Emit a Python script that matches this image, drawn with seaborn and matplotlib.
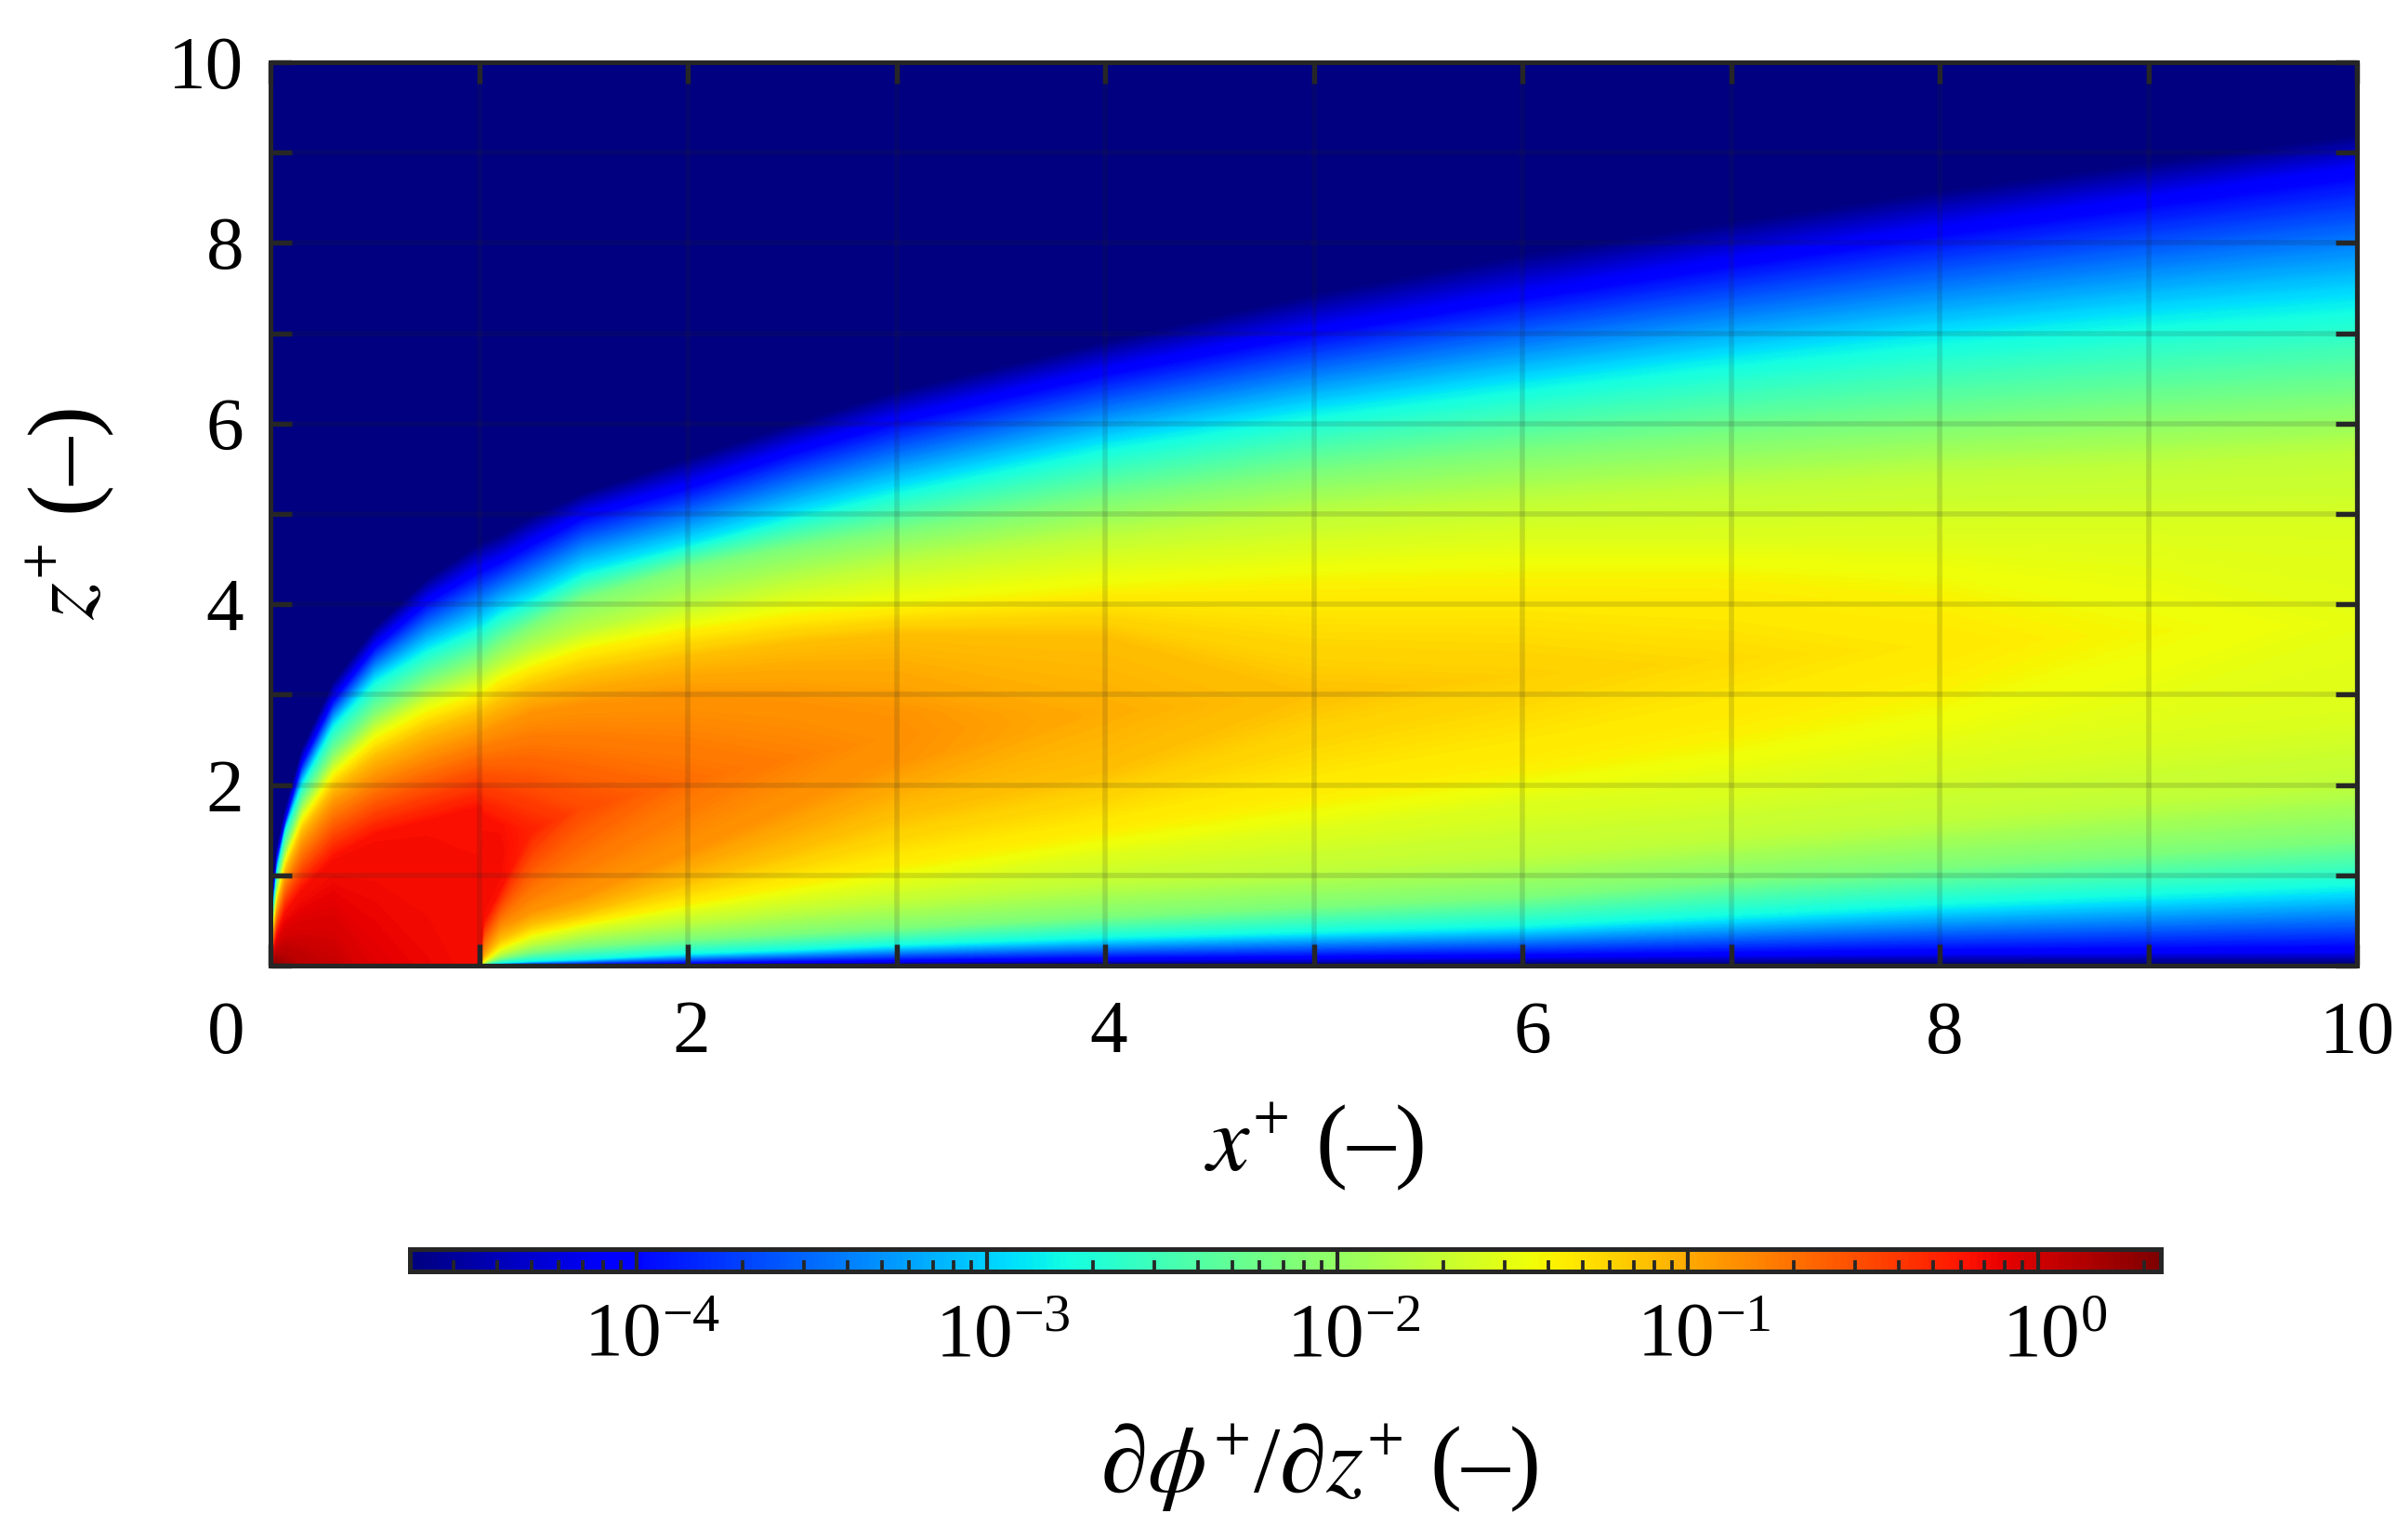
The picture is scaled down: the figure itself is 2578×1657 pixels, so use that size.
import numpy as np
import matplotlib
matplotlib.use("Agg")
import matplotlib.pyplot as plt
import seaborn as sns
from matplotlib.cm import ScalarMappable
from matplotlib.colors import LogNorm, Normalize
from matplotlib.ticker import LogLocator, NullFormatter
from matplotlib.transforms import ScaledTranslation

x_plus = [0, .01, .03, .07, .15, .3, .5, .75, 1.0,
          1.02, 1.1, 1.25, 1.5, 2, 2.5, 3, 4, 5, 6, 7, 8, 9, 10]

# ridge of the field: height and log10 value
peak_z = [0, 0, 0, 0, 0, 0, 0, 0, 0,
          .9, 1.25, 1.5, 1.75, 2.05, 2.3, 2.55, 2.8, 3.0, 3.22, 3.4, 3.55, 3.7, 3.8]
peak_log = [.34, .32, .28, .18, .1, .04, -.08, -.13, -.17,
            -.16, -.17, -.28, -.5, -.68, -.78, -.87, -1.02, -1.12, -1.19, -1.26, -1.33, -1.41, -1.5]

# height of each colour level below the ridge
low_blue = [0, 0, 0, 0, 0, 0, 0, 0, 0,
            .002, .005, .01, .015, .025, .04, .05, .07, .085, .1, .12, .14, .15, .16]
low_cyan = [0, 0, 0, 0, 0, 0, 0, 0, 0,
            .008, .03, .05, .07, .13, .17, .22, .3, .36, .42, .53, .65, .75, .85]
low_green = [0, 0, 0, 0, 0, 0, 0, 0, 0,
             .02, .08, .15, .22, .3, .36, .42, .55, .66, .77, .95, 1.1, 1.25, 1.4]
low_lime = [0, 0, 0, 0, 0, 0, 0, 0, 0,
            .03, .13, .24, .35, .48, .6, .7, .9, 1.05, 1.2, 1.4, 1.6, 1.8, 2.0]
low_chart = [0, 0, 0, 0, 0, 0, 0, 0, 0,
             .04, .17, .3, .42, .6, .75, .9, 1.22, 1.5, 1.8, 2.0, 2.3, 2.6, 2.85]
low_yellow = [0, 0, 0, 0, 0, 0, 0, 0, 0,
              .05, .2, .35, .47, .68, .88, 1.08, 1.45, 1.8, 2.12, 2.5, 3.0, 3.7, 3.8]
low_amber = [0, 0, 0, 0, 0, 0, 0, 0, 0,
             .09, .3, .47, .6, .95, 1.3, 1.7, 2.2, 3.0, 3.22, 3.4, 3.55, 3.7, 3.8]
low_orange = [0, 0, 0, 0, 0, 0, 0, 0, 0,
              .15, .42, .6, .78, 1.25, 1.75, 2.25, 2.8, 3.0, 3.22, 3.4, 3.55, 3.7, 3.8]
low_red = [0, 0, 0, 0, 0, 0, 0, 0, 0,
           .5, .85, 1.5, 1.75, 2.05, 2.3, 2.55, 2.8, 3.0, 3.22, 3.4, 3.55, 3.7, 3.8]

# height of each colour level above the ridge
up_red = [.005, .15, .35, .6, .85, 1.2, 1.45, 1.6, 1.75,
          1.65, 1.55, 1.5, 1.75, 2.05, 2.3, 2.55, 2.8, 3.0, 3.22, 3.4, 3.55, 3.7, 3.8]
up_orange = [.01, .3, .6, .95, 1.35, 1.8, 2.1, 2.35, 2.55,
             2.57, 2.65, 2.8, 2.9, 3.0, 2.95, 2.8, 2.8, 3.0, 3.22, 3.4, 3.55, 3.7, 3.8]
up_amber = [.012, .35, .68, 1.05, 1.48, 1.95, 2.3, 2.58, 2.78,
            2.8, 2.9, 3.05, 3.2, 3.4, 3.55, 3.65, 3.6, 3.0, 3.22, 3.4, 3.55, 3.7, 3.8]
up_yellow = [.015, .4, .75, 1.15, 1.6, 2.1, 2.5, 2.8, 3.0,
             3.02, 3.15, 3.3, 3.5, 3.72, 3.88, 3.97, 4.15, 4.25, 4.3, 4.3, 4.1, 3.7, 3.8]
up_chart = [.016, .42, .78, 1.18, 1.65, 2.16, 2.58, 2.9, 3.1,
            3.12, 3.24, 3.4, 3.6, 3.85, 4.05, 4.2, 4.45, 4.6, 4.72, 4.72, 4.75, 4.75, 4.7]
up_lime = [.017, .45, .82, 1.22, 1.7, 2.22, 2.65, 2.98, 3.2,
           3.22, 3.33, 3.5, 3.7, 4.0, 4.25, 4.45, 4.75, 5.0, 5.16, 5.3, 5.45, 5.55, 5.67]
up_green = [.02, .5, .9, 1.3, 1.8, 2.35, 2.8, 3.15, 3.4,
            3.42, 3.55, 3.75, 4.05, 4.4, 4.62, 4.8, 5.15, 5.45, 5.68, 5.85, 6.0, 6.15, 6.27]
up_cyan = [.02, .6, 1.05, 1.5, 2.0, 2.65, 3.15, 3.5, 3.75,
           3.77, 3.9, 4.05, 4.35, 4.65, 4.97, 5.26, 5.75, 6.12, 6.42, 6.7, 6.95, 7.15, 7.32]
up_blue = [.02, .75, 1.2, 1.6, 2.25, 2.95, 3.55, 4.05, 4.4,
           4.42, 4.5, 4.7, 5.0, 5.33, 5.72, 6.06, 6.6, 7.05, 7.45, 7.82, 8.17, 8.5, 8.83]
up_navy = [.03, .9, 1.35, 1.8, 2.45, 3.2, 3.8, 4.35, 4.75,
           4.77, 4.85, 5.05, 5.3, 5.7, 6.08, 6.45, 7.0, 7.55, 8.0, 8.35, 8.7, 9.0, 9.3]

# log10 value of the colour levels
LOG_NAVY, LOG_BLUE, LOG_CYAN, LOG_GREEN, LOG_LIME = -4.8, -4.09, -2.84, -2.14, -1.75
LOG_CHART, LOG_YELLOW, LOG_AMBER, LOG_ORANGE, LOG_RED = -1.55, -1.39, -1.1, -0.89, -0.19
LOG_MIN, LOG_MAX = -4.646, 0.351

x_ticks = list(range(11))
x_labels = ["0", "", "2", "", "4", "", "6", "", "8", "", "10"]
x_label_nudge = [-48, 0, 3, 0, 3, 0, 10, 0, 5, 0, 0]  # px, as placed in the picture
z_ticks = list(range(11))
z_labels = ["", "", "2", "", "4", "", "6", "", "8", "", "10"]

W, H, DPI = 2579, 1657, 300
DARK = "#262626"

sns.set_theme(style="ticks", rc={
    "font.family": ["Liberation Serif", "DejaVu Serif"],
    "mathtext.fontset": "stix",
    "mathtext.default": "regular",
    "axes.edgecolor": DARK,
    "axes.linewidth": 1.2,
    "font.size": 19,
    "text.color": "black",
    "axes.labelcolor": "black",
})
jet = matplotlib.colormaps["jet"]  # seaborn refuses to hand this one out

rows = [np.zeros(len(x_plus)), low_blue, low_cyan, low_green, low_lime, low_chart, low_yellow,
        low_amber, low_orange, low_red, peak_z, up_red, up_orange, up_amber, up_yellow, up_chart,
        up_lime, up_green, up_cyan, up_blue, up_navy, np.full(len(x_plus), 10.0)]
levels = [LOG_NAVY, LOG_BLUE, LOG_CYAN, LOG_GREEN, LOG_LIME, LOG_CHART, LOG_YELLOW,
          LOG_AMBER, LOG_ORANGE, LOG_RED, 9, LOG_RED, LOG_ORANGE, LOG_AMBER, LOG_YELLOW, LOG_CHART,
          LOG_LIME, LOG_GREEN, LOG_CYAN, LOG_BLUE, LOG_NAVY, LOG_NAVY]

Z = np.array(rows, dtype=float)
V = np.array([np.minimum(lv, peak_log) for lv in levels])
X = np.tile(x_plus, (len(rows), 1))

fig = plt.figure(figsize=(W / DPI, H / DPI), dpi=DPI)
ax = fig.add_axes([291.5 / W, 1 - 1039 / H, 2245 / W, 972 / H])

ax.contourf(X, Z, V, levels=np.linspace(LOG_MIN, LOG_MAX, 300), cmap=jet,
            norm=Normalize(LOG_MIN, LOG_MAX), extend="both")

ax.set_xlim(0, 10)
ax.set_ylim(0, 10)
ax.set_xticks(x_ticks, x_labels)
ax.set_yticks(z_ticks, z_labels)
ax.tick_params(direction="in", length=5.5, width=1.3, color=DARK, top=True, right=True,
               labelsize=19.5, labelcolor="black")
ax.tick_params(axis="x", pad=9)
ax.tick_params(axis="y", pad=7)
ax.grid(True, color=DARK, alpha=0.15, linewidth=1.35)
ax.set_axisbelow(False)
sns.despine(ax=ax, top=False, right=False)

# the labels do not sit exactly under their ticks, "0" is left of the corner
for lab, px in zip(ax.get_xticklabels(), x_label_nudge):
    lab.set_transform(lab.get_transform() + ScaledTranslation(px / DPI, 0, fig.dpi_scale_trans))

ax.set_xlabel(r"$\mathit{x}^{+}$ (–)", fontsize=24.5, va="center")
ax.xaxis.set_label_coords(0.5, -0.2)
ax.set_ylabel(r"$\mathit{z}^{+}$ (–)", fontsize=24.5, va="center")
ax.yaxis.set_label_coords(-0.096, 0.5)

# colour bar
cax = fig.add_axes([441.5 / W, 1 - 1367.5 / H, 1884 / W, 24 / H])
sm = ScalarMappable(norm=LogNorm(10 ** LOG_MIN, 10 ** LOG_MAX), cmap=jet)
cb = fig.colorbar(sm, cax=cax, orientation="horizontal")
cb.outline.set_edgecolor(DARK)
cb.outline.set_linewidth(1.2)
cax.set_axisbelow(False)
cax.xaxis.set_major_locator(LogLocator(base=10, numticks=12))
cax.xaxis.set_minor_locator(LogLocator(base=10, subs=np.arange(2, 10), numticks=12))
cax.xaxis.set_minor_formatter(NullFormatter())
cax.tick_params(which="major", direction="in", length=5.8, width=1.0, color=DARK,
                labelsize=20, labelcolor="black", pad=8)
cax.tick_params(which="minor", direction="in", length=2.8, width=0.9, color=DARK)
fig.canvas.draw()
nudge = ScaledTranslation(17 / DPI, 0, fig.dpi_scale_trans)
for lab in cax.get_xticklabels():
    lab.set_transform(lab.get_transform() + nudge)

fig.text(863 / 1568, 1 - 960 / 1007, r"$\partial\mathit{\phi}^{+}/\partial\mathit{z}^{+}$ (–)",
         fontsize=24.5, ha="center", va="center")

fig.savefig("out.png", dpi=DPI)
